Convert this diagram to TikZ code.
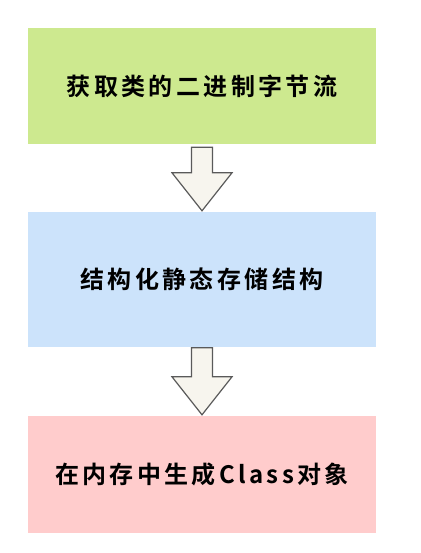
\documentclass[tikz,border=0pt]{standalone}
\usepackage{fontspec}
\newfontfamily\cjk[LetterSpace=14,BoldFont={Noto Sans CJK SC Bold}]{Noto Sans CJK SC}
\usetikzlibrary{calc}
\definecolor{boxgreen}{RGB}{205,233,143}
\definecolor{boxblue}{RGB}{204,227,251}
\definecolor{boxpink}{RGB}{255,204,204}
\definecolor{arrowfill}{RGB}{247,245,238}
\definecolor{arrowline}{RGB}{90,90,90}
\tikzset{
  stagebox/.style={draw=none, minimum width=348pt, inner sep=0pt,
    font=\cjk\bfseries\fontsize{24pt}{28pt}\selectfont, text=black},
  bigarrow/.style={draw=arrowline, fill=arrowfill, line width=1.2pt, line join=miter}
}
\newcommand{\flowarrow}[2]{%
  \draw[bigarrow] ($(#1)+(-10.5,0)$) -- ($(#1)+(10.5,0)$) -- ($(#2)+(10.5,-38)$)
    -- ($(#2)+(30,-38)$) -- (#2) -- ($(#2)+(-30,-38)$) -- ($(#2)+(-10.5,-38)$) -- cycle;}
\begin{document}
\begin{tikzpicture}[x=1pt,y=-1pt]
\useasboundingbox (0,0) rectangle (420,553);
\node[stagebox, fill=boxgreen, minimum height=116pt] (b1) at (202,86) {获取类的二进制字节流};
\node[stagebox, fill=boxblue, minimum height=135pt] (b2) at (202,279.5) {结构化静态存储结构};
\node[stagebox, fill=boxpink, minimum height=117pt] (b3) at (202,474) {在内存中生成Class对象};
\coordinate (a1top) at ($(b1.south)+(0,3)$);
\coordinate (a1tip) at ($(b2.north)+(0,-1)$);
\coordinate (a2top) at ($(b2.south)+(0,0.5)$);
\coordinate (a2tip) at ($(b3.north)+(0,-0.5)$);
\flowarrow{a1top}{a1tip}
\flowarrow{a2top}{a2tip}
\end{tikzpicture}
\end{document}
